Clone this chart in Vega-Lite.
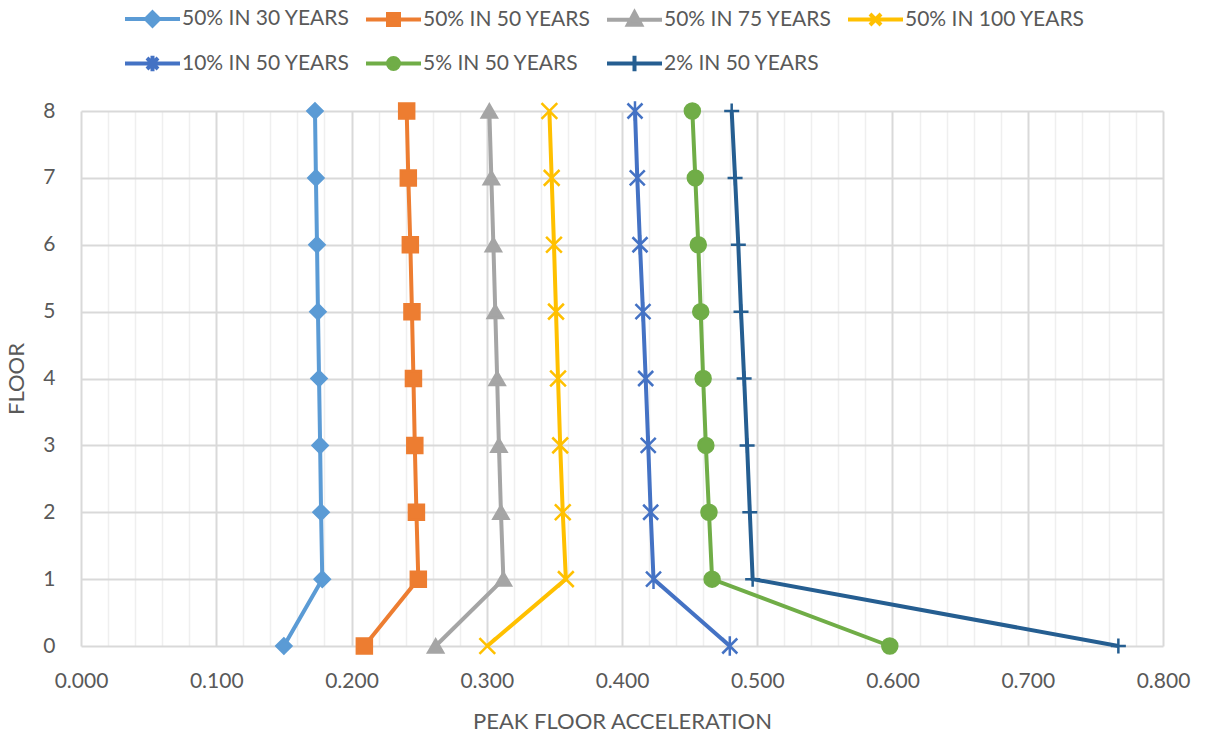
{
  "$schema": "https://vega.github.io/schema/vega-lite/v6.json",
  "autosize": "none",
  "width": 1082,
  "height": 535,
  "padding": {"left": 81, "top": 111, "right": 46, "bottom": 90},
  "background": "white",
  "config": {"view": {"stroke": null}, "font": "Lato"},
  "data": {"values": [
    {"series": "50% IN 30 YEARS", "floor": 0, "pga": 0.150},
    {"series": "50% IN 30 YEARS", "floor": 1, "pga": 0.1784},
    {"series": "50% IN 30 YEARS", "floor": 2, "pga": 0.1775},
    {"series": "50% IN 30 YEARS", "floor": 3, "pga": 0.1768},
    {"series": "50% IN 30 YEARS", "floor": 4, "pga": 0.1760},
    {"series": "50% IN 30 YEARS", "floor": 5, "pga": 0.1752},
    {"series": "50% IN 30 YEARS", "floor": 6, "pga": 0.1745},
    {"series": "50% IN 30 YEARS", "floor": 7, "pga": 0.1737},
    {"series": "50% IN 30 YEARS", "floor": 8, "pga": 0.1730},
    {"series": "50% IN 50 YEARS", "floor": 0, "pga": 0.2095},
    {"series": "50% IN 50 YEARS", "floor": 1, "pga": 0.2494},
    {"series": "50% IN 50 YEARS", "floor": 2, "pga": 0.2480},
    {"series": "50% IN 50 YEARS", "floor": 3, "pga": 0.2468},
    {"series": "50% IN 50 YEARS", "floor": 4, "pga": 0.2458},
    {"series": "50% IN 50 YEARS", "floor": 5, "pga": 0.2447},
    {"series": "50% IN 50 YEARS", "floor": 6, "pga": 0.2435},
    {"series": "50% IN 50 YEARS", "floor": 7, "pga": 0.2420},
    {"series": "50% IN 50 YEARS", "floor": 8, "pga": 0.2408},
    {"series": "50% IN 75 YEARS", "floor": 0, "pga": 0.2622},
    {"series": "50% IN 75 YEARS", "floor": 1, "pga": 0.3123},
    {"series": "50% IN 75 YEARS", "floor": 2, "pga": 0.3105},
    {"series": "50% IN 75 YEARS", "floor": 3, "pga": 0.3090},
    {"series": "50% IN 75 YEARS", "floor": 4, "pga": 0.3077},
    {"series": "50% IN 75 YEARS", "floor": 5, "pga": 0.3063},
    {"series": "50% IN 75 YEARS", "floor": 6, "pga": 0.3049},
    {"series": "50% IN 75 YEARS", "floor": 7, "pga": 0.3034},
    {"series": "50% IN 75 YEARS", "floor": 8, "pga": 0.3019},
    {"series": "50% IN 100 YEARS", "floor": 0, "pga": 0.3004},
    {"series": "50% IN 100 YEARS", "floor": 1, "pga": 0.3585},
    {"series": "50% IN 100 YEARS", "floor": 2, "pga": 0.3562},
    {"series": "50% IN 100 YEARS", "floor": 3, "pga": 0.3543},
    {"series": "50% IN 100 YEARS", "floor": 4, "pga": 0.3527},
    {"series": "50% IN 100 YEARS", "floor": 5, "pga": 0.3512},
    {"series": "50% IN 100 YEARS", "floor": 6, "pga": 0.3497},
    {"series": "50% IN 100 YEARS", "floor": 7, "pga": 0.3480},
    {"series": "50% IN 100 YEARS", "floor": 8, "pga": 0.3463},
    {"series": "10% IN 50 YEARS", "floor": 0, "pga": 0.4797},
    {"series": "10% IN 50 YEARS", "floor": 1, "pga": 0.4233},
    {"series": "10% IN 50 YEARS", "floor": 2, "pga": 0.4212},
    {"series": "10% IN 50 YEARS", "floor": 3, "pga": 0.4194},
    {"series": "10% IN 50 YEARS", "floor": 4, "pga": 0.4175},
    {"series": "10% IN 50 YEARS", "floor": 5, "pga": 0.4155},
    {"series": "10% IN 50 YEARS", "floor": 6, "pga": 0.4133},
    {"series": "10% IN 50 YEARS", "floor": 7, "pga": 0.4113},
    {"series": "10% IN 50 YEARS", "floor": 8, "pga": 0.4096},
    {"series": "5% IN 50 YEARS", "floor": 0, "pga": 0.5980},
    {"series": "5% IN 50 YEARS", "floor": 1, "pga": 0.4666},
    {"series": "5% IN 50 YEARS", "floor": 2, "pga": 0.4643},
    {"series": "5% IN 50 YEARS", "floor": 3, "pga": 0.4620},
    {"series": "5% IN 50 YEARS", "floor": 4, "pga": 0.4600},
    {"series": "5% IN 50 YEARS", "floor": 5, "pga": 0.4582},
    {"series": "5% IN 50 YEARS", "floor": 6, "pga": 0.4564},
    {"series": "5% IN 50 YEARS", "floor": 7, "pga": 0.4542},
    {"series": "5% IN 50 YEARS", "floor": 8, "pga": 0.4520},
    {"series": "2% IN 50 YEARS", "floor": 0, "pga": 0.7670},
    {"series": "2% IN 50 YEARS", "floor": 1, "pga": 0.4966},
    {"series": "2% IN 50 YEARS", "floor": 2, "pga": 0.4945},
    {"series": "2% IN 50 YEARS", "floor": 3, "pga": 0.4925},
    {"series": "2% IN 50 YEARS", "floor": 4, "pga": 0.4903},
    {"series": "2% IN 50 YEARS", "floor": 5, "pga": 0.4880},
    {"series": "2% IN 50 YEARS", "floor": 6, "pga": 0.4860},
    {"series": "2% IN 50 YEARS", "floor": 7, "pga": 0.4836},
    {"series": "2% IN 50 YEARS", "floor": 8, "pga": 0.4811}
  ]},
  "encoding": {
    "x": {
      "field": "pga", "type": "quantitative",
      "scale": {"domain": [0, 0.8], "nice": false, "zero": false},
      "axis": {
        "values": [0,0.02,0.04,0.06,0.08,0.1,0.12,0.14,0.16,0.18,0.2,0.22,0.24,0.26,0.28,0.3,0.32,0.34,0.36,0.38,0.4,0.42,0.44,0.46,0.48,0.5,0.52,0.54,0.56,0.58,0.6,0.62,0.64,0.66,0.68,0.7,0.72,0.74,0.76,0.78,0.8],
        "labelExpr": "round(datum.value*100) % 10 == 0 ? format(datum.value, '.3f') : ''",
        "labelOverlap": false,
        "labelFlush": false,
        "gridColor": {"condition": {"test": "round(datum.value*100) % 10 == 0", "value": "#d9d9d9"}, "value": "#efefef"},
        "gridWidth": {"condition": {"test": "round(datum.value*100) % 10 == 0", "value": 2}, "value": 1.5},
        "ticks": false, "tickSize": 0, "domain": false,
        "labelFont": "Lato", "labelFontSize": 21, "labelColor": "#595959", "labelPadding": 24,
        "title": "PEAK FLOOR ACCELERATION",
        "titleFont": "Lato", "titleFontSize": 22, "titleFontWeight": "normal", "titleColor": "#595959", "titlePadding": 20
      }
    },
    "y": {
      "field": "floor", "type": "quantitative",
      "scale": {"domain": [0, 8], "nice": false},
      "axis": {
        "values": [0,1,2,3,4,5,6,7,8],
        "gridColor": "#d9d9d9", "gridWidth": 2,
        "ticks": false, "tickSize": 0, "domain": false,
        "labelFont": "Lato", "labelFontSize": 21, "labelColor": "#595959", "labelPadding": 26,
        "title": "FLOOR",
        "titleFont": "Lato", "titleFontSize": 22, "titleFontWeight": "normal", "titleColor": "#595959", "titlePadding": 14
      }
    }
  },
  "layer": [
    {
      "mark": {"type": "line", "strokeWidth": 4},
      "encoding": {
        "color": {
          "field": "series", "type": "nominal",
          "scale": {
            "domain": ["50% IN 30 YEARS","50% IN 50 YEARS","50% IN 75 YEARS","50% IN 100 YEARS","10% IN 50 YEARS","5% IN 50 YEARS","2% IN 50 YEARS"],
            "range": ["#5B9BD5","#ED7D31","#A5A5A5","#FFC000","#4472C4","#70AD47","#255E91"]
          }
        },
        "order": {"field": "floor", "type": "quantitative"}
      }
    },
    {
      "mark": {"type": "point", "filled": true, "size": 225, "opacity": 1, "strokeWidth": 2.5},
      "encoding": {
        "color": {
          "field": "series", "type": "nominal",
          "scale": {
            "domain": ["50% IN 30 YEARS","50% IN 50 YEARS","50% IN 75 YEARS","50% IN 100 YEARS","10% IN 50 YEARS","5% IN 50 YEARS","2% IN 50 YEARS"],
            "range": ["#5B9BD5","#ED7D31","#A5A5A5","#FFC000","#4472C4","#70AD47","#255E91"]
          },
          "legend": {
            "orient": "none", "legendX": 42, "legendY": -122,
            "direction": "horizontal", "columns": 4, "title": null,
            "gridAlign": "each", "columnPadding": 8, "rowPadding": 0,
            "symbolSize": 3025, "symbolStrokeWidth": 4,
            "symbolType": {"expr": "['M-1,0H1M0,-0.24L0.24,0L0,0.24L-0.24,0Z','M-1,0H1M-0.2,-0.2H0.2V0.2H-0.2Z','M-1,0H1M0,-0.26L0.24,0.19H-0.24Z','M-1,0H1M-0.2,-0.2L0.2,0.2M-0.2,0.2L0.2,-0.2','M-1,0H1M-0.2,-0.2L0.2,0.2M-0.2,0.2L0.2,-0.2M0,-0.28V0.28','M-1,0H1M-0.2,0A0.2,0.2,0,1,0,0.2,0A0.2,0.2,0,1,0,-0.2,0Z','M-1,0H1M0,-0.28V0.28'][indexof(['50% IN 30 YEARS','50% IN 50 YEARS','50% IN 75 YEARS','50% IN 100 YEARS','10% IN 50 YEARS','5% IN 50 YEARS','2% IN 50 YEARS'], datum.value)]"},
            "labelFont": "Lato", "labelFontSize": 21, "labelColor": "#595959", "labelOffset": 0,
            "labelLimit": 400
          }
        },
        "stroke": {
          "field": "series", "type": "nominal",
          "scale": {
            "domain": ["50% IN 30 YEARS","50% IN 50 YEARS","50% IN 75 YEARS","50% IN 100 YEARS","10% IN 50 YEARS","5% IN 50 YEARS","2% IN 50 YEARS"],
            "range": ["#5B9BD5","#ED7D31","#A5A5A5","#FFC000","#4472C4","#70AD47","#255E91"]
          }
        },
        "shape": {
          "field": "series", "type": "nominal",
          "scale": {
            "domain": ["2% IN 50 YEARS","5% IN 50 YEARS","10% IN 50 YEARS","50% IN 100 YEARS","50% IN 75 YEARS","50% IN 50 YEARS","50% IN 30 YEARS"],
            "range": ["M-1,0H1M0,-1V1","circle","M-1,-1L1,1M-1,1L1,-1M0,-1.3V1.3","M-1.05,-1.05L1.05,1.05M-1.05,1.05L1.05,-1.05","triangle-up","square","diamond"]
          },
          "legend": null
        }
      }
    }
  ]
}
